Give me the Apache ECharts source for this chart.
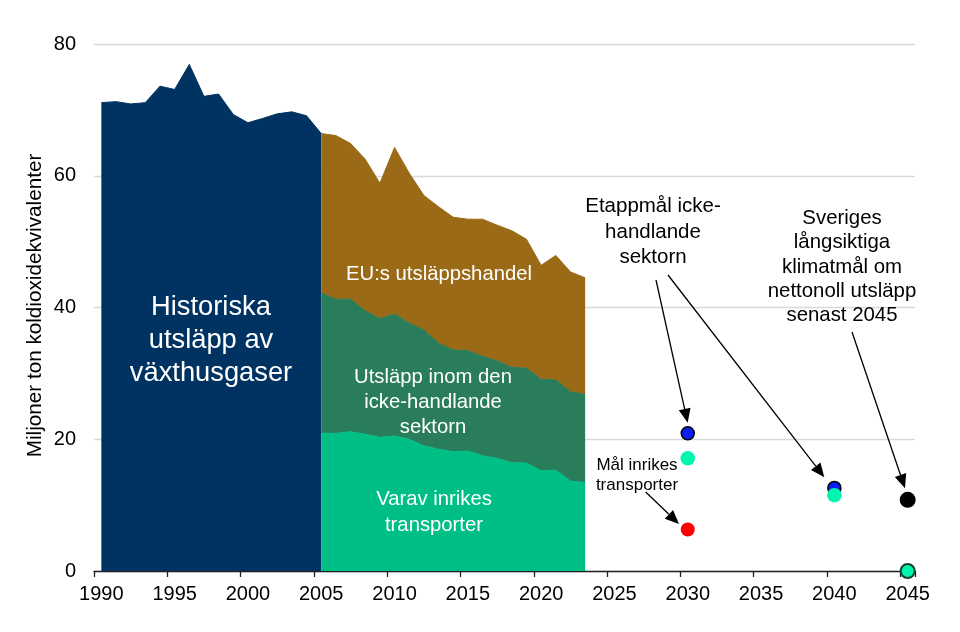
<!DOCTYPE html>
<html><head><meta charset="utf-8">
<style>html,body{margin:0;padding:0;background:#fff}#c{width:960px;height:632px}</style>
<script src="https://cdn.jsdelivr.net/npm/echarts@6/dist/echarts.min.js"></script>
</head><body><div id="c"></div>
<script>
const years = ['1990','1991','1992','1993','1994','1995','1996','1997','1998','1999','2000','2001','2002','2003','2004','2005','2006','2007','2008','2009','2010','2011','2012','2013','2014','2015','2016','2017','2018','2019','2020','2021','2022','2023','2024','2025','2026','2027','2028','2029','2030','2031','2032','2033','2034','2035','2036','2037','2038','2039','2040','2041','2042','2043','2044','2045'];
const historicYears = years.slice(0, 16);
const historic = [71.1,71.25,70.9,71.1,73.6,73.1,76.9,72.05,72.4,69.3,68.05,68.7,69.4,69.7,69.1,66.4];
const splitYears = years.slice(15, 34);
const transport = [20.9,20.9,21.15,20.75,20.3,20.5,20,19,18.5,18.1,18.2,17.5,17.1,16.45,16.4,15.2,15.3,13.65,13.45];
const nonTradingOther = [21.3,20.35,20.1,18.75,18,18.5,17.6,17.6,16.1,15.45,15.25,15.1,14.8,14.45,14.4,13.9,13.7,13.55,13.35];
const ets = [24.2,24.85,23.65,23,20.55,25.3,22.8,20.4,20.7,20.15,19.95,20.8,20.6,20.75,19.55,17.3,18.9,18.2,17.7];
const goalsNonTrading = [['2030',20.9],['2040',12.6]];
const goalsNonTradingTurq = [['2030',17.1],['2040',11.5]];
const goalTransport = [['2030',6.3]];
const goalNetZero = [['2045',10.8]];
const goalZeroMarker = [['2045',0]];

const colors = {navy:'#003361',brown:'#9a6a17',green:'#2a7d5a',bright:'#00bf86',turq:'#00f5b0',blue:'#0a1ef5',red:'#ff0000'};
const font = '"Liberation Sans", Arial, sans-serif';
const align = (ys, vals) => years.map(y => { const i = ys.indexOf(y); return i < 0 ? null : vals[i]; });
const area = (name, ys, vals, color, stack) => ({
  name, type:'line', data:align(ys, vals), stack, symbol:'none', connectNulls:false, z:2,
  lineStyle:{color, width:1}, itemStyle:{color}, areaStyle:{color, opacity:1}, animation:false
});
const dots = (name, data, color, border, size, z, bw) => ({
  name, type:'scatter', data, symbolSize:size, clip:false, z, animation:false,
  itemStyle:{color, opacity:1, borderColor:border || color, borderWidth:border ? (bw || 1.5) : 0}
});

const chart = echarts.init(document.getElementById('c'), null, {renderer:'canvas'});
function txt(lines, cx, top, size, fill, lh) {
  return {type:'text', z:100, style:{text:lines.join('\n'), x:cx, y:top, fill, font:size+'px '+font, align:'center', verticalAlign:'top', lineHeight:lh}};
}
function arrow(x1,y1,x2,y2) {
  const a = Math.atan2(y2-y1,x2-x1), L = 14, W = 6;
  const bx = x2-L*Math.cos(a), by = y2-L*Math.sin(a);
  const nx = -Math.sin(a)*W, ny = Math.cos(a)*W;
  return [
    {type:'line', z:100, shape:{x1,y1,x2:bx,y2:by}, style:{stroke:'#000',lineWidth:1.3}},
    {type:'polygon', z:100, shape:{points:[[x2,y2],[bx+nx,by+ny],[bx-nx,by-ny]]}, style:{fill:'#000'}}
  ];
}
chart.setOption({
  animation:false,
  backgroundColor:'#fff',
  textStyle:{fontFamily:font},
  grid:{left:94,right:45,top:44,bottom:61,containLabel:false},
  xAxis:{type:'category',data:years,boundaryGap:true,
    axisLine:{lineStyle:{color:'#222',width:1.3}},
    axisTick:{show:true,alignWithLabel:false,interval:4,length:6,lineStyle:{color:'#222',width:1.3}},
    axisLabel:{interval:4,color:'#000',fontSize:20,margin:13,fontFamily:font,showMaxLabel:true,hideOverlap:false},
    splitLine:{show:false}},
  yAxis:{type:'value',min:0,max:80,interval:20,
    name:'Miljoner ton koldioxidekvivalenter',nameLocation:'middle',nameGap:48,nameMoveOverlap:false,
    nameTextStyle:{color:'#000',fontSize:20.7,fontFamily:font,padding:[0,0,0,4]},
    axisLine:{show:false},axisTick:{show:false},
    axisLabel:{color:'#000',fontSize:20,margin:18,fontFamily:font},
    splitLine:{show:true,lineStyle:{color:'#d9d9d9',width:1.3}}},
  series:[
    area('Historiska utsläpp', historicYears, historic, colors.navy),
    area('Varav inrikes transporter', splitYears, transport, colors.bright, 's'),
    area('Utsläpp inom den icke-handlande sektorn', splitYears, nonTradingOther, colors.green, 's'),
    area('EU:s utsläppshandel', splitYears, ets, colors.brown, 's'),
    dots('Etappmål', goalsNonTrading, colors.blue, '#000', 13, 5),
    dots('Etappmål transporter', goalsNonTradingTurq, colors.turq, null, 14.5, 6),
    dots('Mål inrikes transporter', goalTransport, colors.red, null, 14, 6),
    dots('Klimatmål 2045', goalNetZero, '#000', null, 16, 6),
    dots('Klimatmål 2045 noll', goalZeroMarker, colors.turq, '#13432f', 14, 6, 2)
  ],
  graphic:[
    txt(['Historiska','utsläpp av','växthusgaser'],211,291,27.3,'#fff',33),
    txt(['EU:s utsläppshandel'],439,262,20.3,'#fff',24),
    txt(['Utsläpp inom den','icke-handlande','sektorn'],433,365,20.3,'#fff',25),
    txt(['Varav inrikes','transporter'],434,486,20.3,'#fff',26),
    txt(['Etappmål icke-','handlande','sektorn'],653,194,20.5,'#000',25.5),
    txt(['Sveriges','långsiktiga','klimatmål om','nettonoll utsläpp','senast 2045'],842,206,20.4,'#000',24.4),
    txt(['Mål inrikes','transporter'],637,455,17,'#000',20.5),
    ...arrow(656,280,687.7,422.7),
    ...arrow(668,275,824.3,477.3),
    ...arrow(852,332,905,488.3),
    ...arrow(645.7,492,679,524)
  ]
});
</script></body></html>
